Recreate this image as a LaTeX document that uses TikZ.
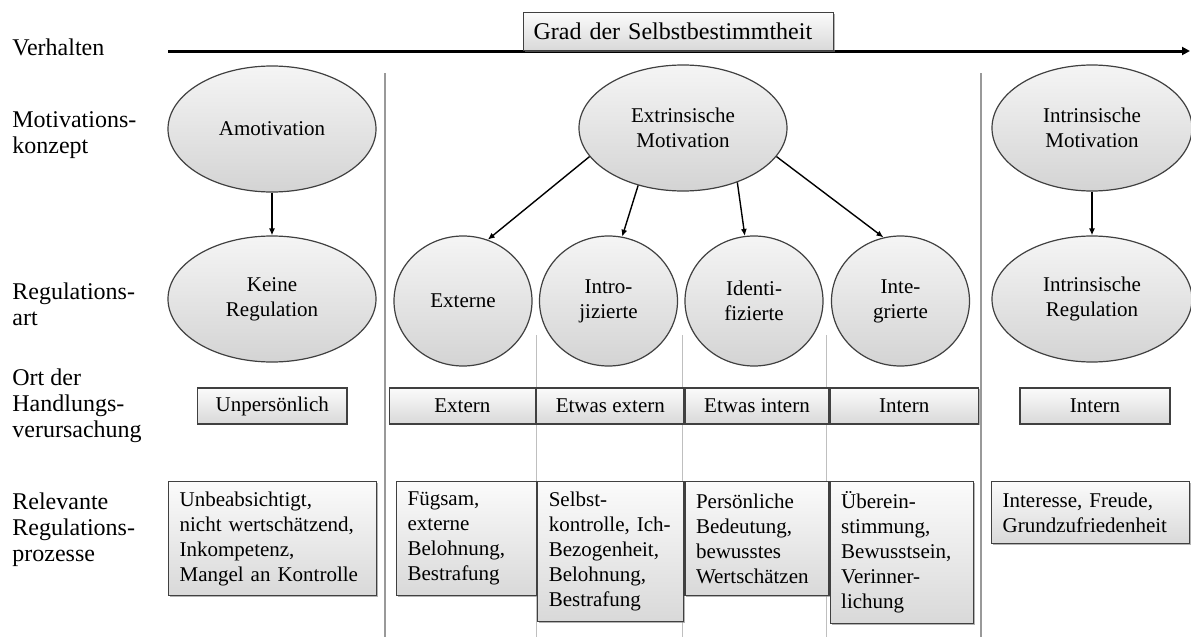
\documentclass[tikz,border=0pt]{standalone}
\usepackage{fontspec}
\setmainfont{Liberation Serif}
\usetikzlibrary{positioning,arrows.meta,shapes.geometric,shadows}

\begin{document}
\begin{tikzpicture}[x=0.5pt,y=-0.5pt,
    lbl/.style={anchor=west, align=left, inner sep=0pt, font=\fontsize{12}{13}\selectfont},
    ell/.style={draw=black!75, ellipse, line width=0.6pt, top color=gray!8, bottom color=gray!34,
        minimum width=104pt, minimum height=63pt, inner sep=0pt, align=center,
        font=\fontsize{10.5}{12.5}\selectfont},
    circ/.style={ell, minimum width=69pt, minimum height=65pt},
    ortbox/.style={draw=black!75, line width=0.6pt, top color=gray!3, bottom color=gray!30,
        minimum height=18pt, inner sep=0pt, font=\fontsize{10.5}{12.5}\selectfont,
        drop shadow={shadow xshift=0.7pt, shadow yshift=-0.7pt, fill=gray, opacity=0.6}},
    procbox/.style={ortbox, anchor=north west, align=left, inner xsep=5.5pt, inner ysep=0pt},
    pfeil/.style={-{Latex[length=3.5pt,width=3pt]}, line width=0.7pt},
    trenn/.style={draw=gray!80, line width=0.8pt},
    trennfein/.style={draw=gray!50, line width=0.5pt}]

    \useasboundingbox (0,0) rectangle (1191,637);

    % Zeilen links
    \node[lbl] (l1) at (12,47) {Verhalten};
    \node[lbl] (l2) at (12,135) {Motivations-\\konzept};
    \node[lbl] (l3) at (12,304) {Regulations-\\art};
    \node[lbl] (l4) at (12,406) {Ort der\\Handlungs-\\verursachung};
    \node[lbl] (l5) at (12,530) {Relevante\\Regulations-\\prozesse};

    % Achse oben
    \coordinate (a0) at (168,51);
    \coordinate (a1) at (1190,51);
    \draw[line width=1.5pt, -{Triangle[length=4pt,width=4pt]}] (a0) -- (a1);
    \node[ortbox, font=\fontsize{12}{13}\selectfont, anchor=south west, text width=145pt,
        align=left, inner xsep=5pt, minimum height=19pt] (gs) at (523,51) {Grad der Selbstbestimmtheit};

    % Trennlinien
    \draw[trenn] (385,73) -- (385,637);
    \draw[trenn] (981,73) -- (981,637);
    \foreach \x in {536,682,826}
        \draw[trennfein] (\x,335) -- (\x,637);

    % Motivationskonzept
    \node[ell] (am) at (272,129) {Amotivation};
    \node[ell] (em) at (683,128) {Extrinsische\\Motivation};
    \node[ell, minimum width=100pt] (im) at (1092,128) {Intrinsische\\Motivation};

    % Regulationsart
    \node[ell] (kr) at (272,299) {Keine\\Regulation};
    \node[circ] (ex) at (463,301) {Externe};
    \node[circ] (ij) at (608.5,301) {Intro-\\jizierte};
    \node[circ] (id) at (754,301) {Identi-\\fizierte};
    \node[circ] (ig) at (900.5,301) {Inte-\\grierte};
    \node[ell, minimum width=100pt] (ir) at (1092,299) {Intrinsische\\Regulation};

    \draw[pfeil] (am) -- (kr);
    \draw[pfeil] (im) -- (ir);
    \draw[pfeil] (em.197) -- (ex.68);
    \draw[pfeil] (em.232) -- (ij.78);
    \draw[pfeil] (em.315) -- (id.98);
    \draw[pfeil] (em.343) -- (ig.105);

    % Ort der Handlungsverursachung
    \node[ortbox, minimum width=74.75pt] (o0) at (272.25,406) {Unpersönlich};
    \node[ortbox, anchor=west, minimum width=73.25pt] (o1) at (388.5,406) {Extern};
    \node[ortbox, minimum width=73.5pt, right=0pt of o1] (o2) {Etwas extern};
    \node[ortbox, minimum width=72pt, right=0pt of o2] (o3) {Etwas intern};
    \node[ortbox, minimum width=74pt, right=0pt of o3] (o4) {Intern};
    \node[ortbox, minimum width=75pt] (o5) at (1095,406) {Intern};

    % Regulationsprozesse
    \node[procbox, text width=93pt, minimum height=57pt] (p0) at (168,481)
        {Unbeabsichtigt,\\nicht wertschätzend,\\Inkompetenz,\\Mangel an Kontrolle};
    \node[procbox, text width=59pt, minimum height=57pt] (p1) at (396,481)
        {Fügsam,\\externe\\Belohnung,\\Bestrafung};
    \node[procbox, text width=62pt, minimum height=70pt] (p2) at (p1.north east)
        {Selbst-\\kontrolle, Ich-\\Bezogenheit,\\Belohnung,\\Bestrafung};
    \node[procbox, text width=61pt, minimum height=57pt] (p3) at (p2.north east)
        {Persönliche\\Bedeutung,\\bewusstes\\Wertschätzen};
    \node[procbox, text width=60.5pt, minimum height=71pt] (p4) at (p3.north east)
        {Überein-\\stimmung,\\Bewusstsein,\\Verinner-\\lichung};
    \node[procbox, text width=88pt, minimum height=31pt] (p5) at (991,481)
        {Interesse, Freude,\\Grundzufriedenheit};

\end{tikzpicture}
\end{document}
